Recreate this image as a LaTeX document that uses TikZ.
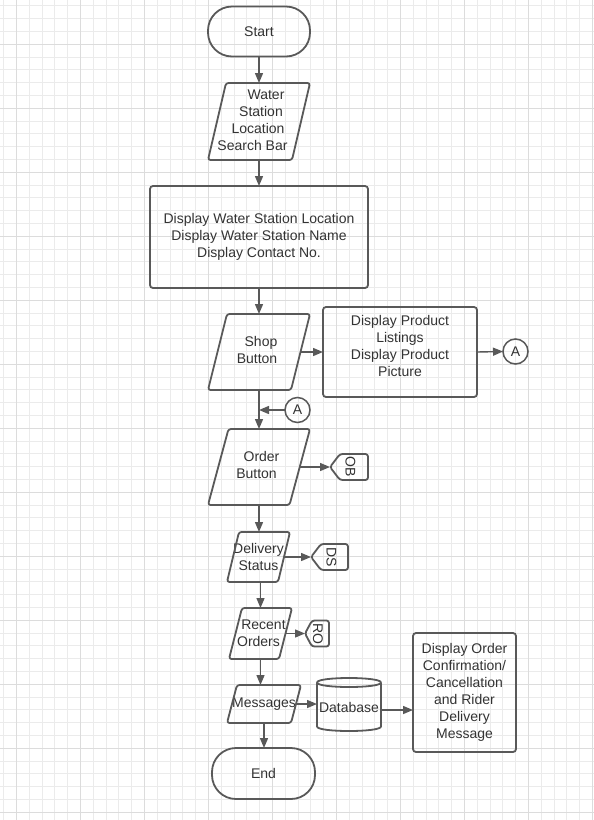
\documentclass[tikz,border=0pt]{standalone}
\usepackage{fontspec}
\usepackage{graphicx}
\setmainfont{Liberation Sans}
\usetikzlibrary{arrows.meta,calc}
\definecolor{gridminor}{HTML}{EBEBEB}
\definecolor{gridmajor}{HTML}{DCDCDC}
\definecolor{ink}{HTML}{595959}
\definecolor{txt}{HTML}{333333}
\tikzset{
  base/.style={inner sep=0pt, outer sep=0pt, font=\fontsize{14}{17}\selectfont, text=txt, align=center},
  term/.style={base, draw=ink, line width=1.8pt, rounded corners=24pt},
  proc/.style={base, draw=ink, line width=1.8pt, rounded corners=3pt},
  iobox/.style={base},
  outline/.style={draw=ink, line width=1.8pt, rounded corners=2.5pt, line join=round},
  conn/.style={base, draw=ink, line width=1.5pt, circle, minimum size=25pt},
  flow/.style={draw=ink, line width=1.4pt, -{Triangle[length=10pt,width=8pt]}},
}
\newcommand\drawpara[2]{\draw[outline] (#1.south west) -- ([xshift=#2pt]#1.north west) -- (#1.north east) -- ([xshift=-#2pt]#1.south east) -- cycle;}
\newcommand\drawoffpage[2]{\draw[outline] (#1.west) -- ([xshift=#2pt]#1.north west) -- (#1.north east) -- (#1.south east) -- ([xshift=#2pt]#1.south west) -- cycle;}
\newcommand\shiftln[2]{\hspace*{#1pt}#2}
\begin{document}
\begin{tikzpicture}[x=1pt,y=-1pt]
\useasboundingbox (0,0) rectangle (594,820);
\fill[white] (0,0) rectangle (594,820);
% grid
\foreach \i in {0,...,46} {\pgfmathsetmacro\xx{3.7+12.8*\i}\draw[gridminor, line width=1pt] (\xx,0) -- (\xx,820);}
\foreach \i in {0,...,63} {\pgfmathsetmacro\yy{5.9+12.8*\i}\draw[gridminor, line width=1pt] (0,\yy) -- (594,\yy);}
\foreach \i in {0,...,9} {\pgfmathsetmacro\xx{16.5+64*\i}\draw[gridmajor, line width=1pt] (\xx,0) -- (\xx,820);}
\foreach \i in {0,...,12} {\pgfmathsetmacro\yy{44.3+64*\i}\draw[gridmajor, line width=1pt] (0,\yy) -- (594,\yy);}

% nodes
\node[term, minimum width=102pt, minimum height=50pt] (start) at (259,31.5) {Start};
\node[iobox, minimum width=102pt, minimum height=77pt] (search) at (259,121.5) {\shiftln{14}{Water}\\\shiftln{4}{Station}\\\shiftln{-2}{Location}\\\shiftln{-13}{Search Bar}\\[-15pt]\mbox{}};
\drawpara{search}{18}
\node[proc, minimum width=218pt, minimum height=102pt] (disp) at (259,237) {Display Water Station Location\\Display Water Station Name\\Display Contact No.};
\node[iobox, minimum width=102pt, minimum height=76pt] (shop) at (259,352) {\shiftln{4}{Shop}\\\shiftln{-4}{Button}\\[-13pt]\mbox{}};
\drawpara{shop}{19}
\node[proc, minimum width=154pt, minimum height=90pt] (prod) at (400,352) {Display Product\\Listings\\Display Product\\Picture\\[-4pt]\mbox{}};
\node[conn] (a1) at (515.5,351.5) {A};
\node[conn] (a2) at (297.5,410) {A};
\node[iobox, minimum width=102pt, minimum height=76pt] (order) at (259,467) {\shiftln{5}{Order}\\\shiftln{-5}{Button}\\[-13pt]\mbox{}};
\drawpara{order}{20.5}
\node[iobox, minimum width=38pt, minimum height=26pt] (ob) at (349,467) {\hspace{3pt}\rotatebox{-90}{OB}};
\drawoffpage{ob}{10}
\node[iobox, minimum width=63pt, minimum height=50pt] (deliv) at (258.5,557) {Delivery\\Status};
\drawpara{deliv}{12}
\node[iobox, minimum width=37pt, minimum height=26pt] (ds) at (329.5,557) {\hspace{4pt}\rotatebox{-90}{DS}};
\drawoffpage{ds}{10}
\node[iobox, minimum width=63pt, minimum height=51pt] (recent) at (260.5,633.5) {\shiftln{6}{Recent}\\\shiftln{-4}{Orders}};
\drawpara{recent}{13}
\node[iobox, minimum width=24pt, minimum height=26pt] (ro) at (317,633.5) {\hspace{2pt}\rotatebox{-90}{RO}};
\drawoffpage{ro}{7}
\node[iobox, minimum width=74pt, minimum height=38pt] (msgs) at (264,704) {Messages};
\drawpara{msgs}{10}
\node[iobox, minimum width=64pt, minimum height=53pt] (db) at (349,707) {Database};
\draw[outline, rounded corners=0pt] (317,682.5) .. controls (317,676.5) and (381,676.5) .. (381,682.5) .. controls (381,688.5) and (317,688.5) .. (317,682.5) -- (317,726.5) .. controls (317,732.5) and (381,732.5) .. (381,726.5) -- (381,682.5);
\node[proc, minimum width=103pt, minimum height=119pt] (conf) at (464.5,692.5) {Display Order\\Confirmation/\\Cancellation\\and Rider\\Delivery\\Message};
\node[term, minimum width=103pt, minimum height=51pt] (endt) at (263.5,773.5) {End};

% connectors
\draw[flow] (start.south) -- (search.north);
\draw[flow] (search.south) -- (disp.north);
\draw[flow] (disp.south) -- (shop.north);
\draw[flow] ([xshift=-9.5pt]shop.east) -- (prod.west);
\draw[flow] (prod.east) -- (a1.west);
\draw[flow] (shop.south) -- (order.north);
\draw[flow] (a2.west) -- (a2.west -| shop.south);
\draw[flow] ([xshift=-10pt]order.east) -- (ob.west);
\draw[flow] (order.south) -- (order.south |- deliv.north);
\draw[flow] ([xshift=-6pt]deliv.east) -- (ds.west);
\draw[flow] (recent.north |- deliv.south) -- (recent.north);
\draw[flow] ([xshift=-6.5pt]recent.east) -- (ro.west);
\draw[flow] (recent.south) -- (recent.south |- msgs.north);
\draw[flow] ([xshift=-5pt]msgs.east) -- (msgs.east -| db.west);
\draw[flow] (msgs.south) -- (msgs.south |- endt.north);
\draw[flow] ([yshift=-3pt]db.east) -- ([yshift=-3pt]db.east -| conf.west);
\end{tikzpicture}
\end{document}
